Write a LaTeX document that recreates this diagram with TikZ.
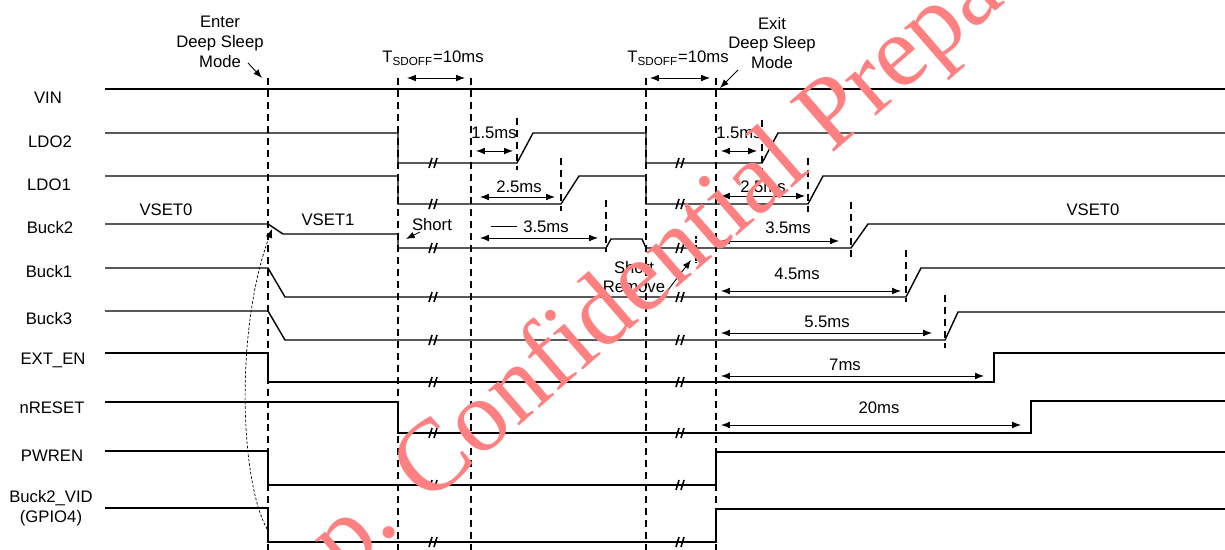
\documentclass[tikz,border=0pt]{standalone}
\usepackage{fontspec}
\setmainfont{Liberation Sans}
\newfontfamily\wmfont{Liberation Serif}
\usetikzlibrary{arrows.meta}

\begin{document}
\begin{tikzpicture}[x=0.02cm, y=-0.02cm, font=\fontsize{9.5}{11.3}\selectfont]
  \tikzstyle{sig} = [line width=0.8pt]
  \tikzstyle{tmark} = [dash pattern=on 4pt off 2.8pt, line width=0.75pt]
  \tikzstyle{brk} = [line width=0.9pt]
  \tikzstyle{dim} = [<->, >={Latex[length=5pt,width=3.8pt]}, line width=0.5pt]
  \tikzstyle{pointer} = [->, >={Latex[length=5pt,width=3.8pt]}, line width=0.5pt]
  \tikzstyle{lbl} = [inner sep=1pt]

  \useasboundingbox (0,0) rectangle (1225,550);

  % Signal names
  \foreach \id/\name/\x/\y in {vin/VIN/48/98, ldoB/LDO2/50/142, ldoA/LDO1/49/185,
      buckB/Buck2/50/228, buckA/Buck1/49/272, buckC/Buck3/49/319,
      exten/EXT\_EN/53/360, nreset/nRESET/52/408, pwren/PWREN/52/456}
    \node[lbl] (\id) at (\x,\y) {\name};
  \node[lbl, align=center] (vid) at (51,508) {Buck2\_VID\\(GPIO4)};

  % Time markers
  \foreach \x in {268, 398, 471, 646, 716}
    \draw[tmark] (\x,78) -- (\x,550);

  % Ramp markers
  \foreach \x/\ya/\yb in {517/118/170, 561/158/211, 606/200/252, 762/120/172,
      808/158/212, 851/202/258, 906/250/302, 945/295/348}
    \draw[tmark] (\x,\ya) -- (\x,\yb);
  \draw[dash pattern=on 1.5pt off 1pt, line width=0.6pt] (696,236) -- (696,263);

  % Waveforms
  \draw[sig] (105,89) -- (1225,89);
  \draw[sig] (105,133) -- (398,133) -- (398,163) -- (517,163) -- (533,133) -- (646,133)
    -- (646,163) -- (762,163) -- (778,133) -- (1225,133);
  \draw[sig] (105,176) -- (398,176) -- (398,204) -- (561,204) -- (579,176) -- (646,176)
    -- (646,204) -- (808,204) -- (823,176) -- (1225,176);
  \draw[sig] (105,224) -- (268,224) -- (283,234) -- (398,234) -- (398,248) -- (606,248)
    -- (611,239) -- (642,239) -- (646,248) -- (851,248) -- (868,224) -- (1225,224);
  \draw[sig] (105,268) -- (268,268) -- (285,297) -- (906,297) -- (921,268) -- (1225,268);
  \draw[sig] (105,311) -- (268,311) -- (285,340) -- (945,340) -- (958,312) -- (1225,312);
  \draw[sig] (105,353) -- (268,353) -- (268,382) -- (994,382) -- (994,353) -- (1225,353);
  \draw[sig] (105,402) -- (398,402) -- (398,433) -- (1031,433) -- (1031,401) -- (1225,401);
  \draw[sig] (105,451) -- (268,451) -- (268,485) -- (716,485) -- (716,452) -- (1225,452);
  \draw[sig] (105,508) -- (268,508) -- (268,542) -- (716,542) -- (716,509) -- (1225,509);

  % Breaks
  \foreach \bx in {434, 681}
    \foreach \by in {163, 204, 248, 297, 340, 382, 433, 485, 542}
      \draw[brk] (\bx-5,\by+5) -- ++(3,-10) (\bx,\by+5) -- ++(3,-10);

  % Levels
  \node[lbl] (vsetA) at (166,210) {VSET0};
  \node[lbl] (vsetB) at (328,220) {VSET1};
  \node[lbl] (vsetC) at (1093,210) {VSET0};

  % Mode changes
  \node[lbl, align=center] (enter) at (220,42) {Enter\\Deep Sleep\\Mode};
  \node[lbl, align=center] (exit) at (772,43) {Exit\\Deep Sleep\\Mode};
  \coordinate (enterFrom) at (248,63);
  \coordinate (enterTip) at (262,78);
  \coordinate (exitFrom) at (738,70);
  \coordinate (exitTip) at (720,88);
  \draw[pointer] (enterFrom) -- (enterTip);
  \draw[pointer] (exitFrom) -- (exitTip);

  % Shutdown delay
  \node[lbl] (sdoffA) at (433,58) {T\textsubscript{SDOFF}=10ms};
  \node[lbl] (sdoffB) at (678,58) {T\textsubscript{SDOFF}=10ms};
  \draw[dim] (407,78) -- (465,78);
  \draw[dim] (650,78) -- (710,78);

  % Short events
  \node[lbl] (short) at (432,225) {Short};
  \node[lbl, align=center] (remove) at (634,277) {Short\\Remove};
  \coordinate (shortFrom) at (420,232);
  \coordinate (shortTip) at (406,239);
  \coordinate (removeFrom) at (668,290);
  \coordinate (removeTip) at (691,260);
  \draw[pointer] (shortFrom) -- (shortTip);
  \draw[pointer] (removeFrom) -- (removeTip);

  % Delays after T_SDOFF
  \draw[dim] (476,151) -- (513,151);
  \draw[dim] (480,197) -- (555,197);
  \draw[dim] (480,238) -- (598,238);
  \draw[line width=0.5pt] (491,226) -- (517,226);
  \node[lbl] (dA) at (494,133) {1.5ms};
  \node[lbl] (dB) at (519,187) {2.5ms};
  \node[lbl] (dC) at (546,227) {3.5ms};

  % Delays after exit
  \foreach \y/\xb in {151/757, 196/805, 241/839, 291/901, 333/932, 376/984, 425/1021}
    \draw[dim] (721,\y) -- (\xb,\y);
  \node[lbl] (eA) at (739,133) {1.5ms};
  \node[lbl] (eB) at (763,187) {2.5ms};
  \node[lbl] (eC) at (788,228) {3.5ms};
  \node[lbl] (eD) at (797,274) {4.5ms};
  \node[lbl] (eE) at (827,322) {5.5ms};
  \node[lbl] (eF) at (845,365) {7ms};
  \node[lbl] (eG) at (879,408) {20ms};

  % GPIO selects VSET
  \coordinate (vidFrom) at (267,529);
  \coordinate (vidTip) at (272,229);
  \draw[pointer, dash pattern=on 1.5pt off 1pt, line width=0.4pt]
    (vidFrom) .. controls (240,480) and (235,330) .. (vidTip);

  % Watermark
  \node[rotate=41, anchor=base west, inner sep=0pt, text=red!50,
    font=\wmfont\fontsize{58}{58}\selectfont] (wm) at (344,578) {p. Confidential Prepa};

\end{tikzpicture}
\end{document}
